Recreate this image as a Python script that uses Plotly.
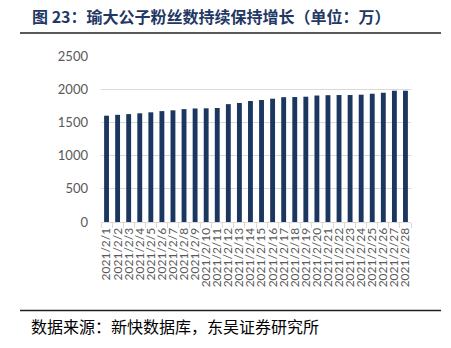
import plotly.graph_objects as go

dates = [f"2021/2/{d}" for d in range(1, 29)]
fans = [1601, 1614, 1625, 1637, 1652, 1670, 1682, 1700, 1710, 1712, 1717, 1775, 1792,
        1822, 1837, 1857, 1880, 1882, 1887, 1905, 1910, 1912, 1912, 1917, 1932, 1947,
        1975, 1977]
y_ticks = [0, 500, 1000, 1500, 2000, 2500]

title_text = "图 23：瑜大公子粉丝数持续保持增长（单位：万）"
source_text = "数据来源：新快数据库，东吴证券研究所"

W, H = 451, 348
L, R, T, B = 101, 40, 56, 126
pw, ph = W - L - R, H - T - B


def px(x):
    return (x - L) / pw


def py(y):
    return (H - B - y) / ph


fig = go.Figure(go.Bar(x=dates, y=fans, marker=dict(color="#1B3760", line=dict(width=0)),
                       width=0.44))

fig.update_layout(
    width=W, height=H,
    margin=dict(l=L, r=R, t=T, b=B),
    paper_bgcolor="white", plot_bgcolor="white",
    showlegend=False,
    font=dict(family="Lato, Liberation Sans, sans-serif", color="#595959"),
    xaxis=dict(type="category", tickangle=-90, tickfont=dict(size=12, color="#595959"),
               tickmode="array", tickvals=dates, ticktext=dates,
               showline=True, linecolor="#D9D9D9", linewidth=1,
               ticks="outside", ticklen=5, tickcolor="#D9D9D9", tickson="boundaries",
               showgrid=False, automargin=False),
    yaxis=dict(range=[0, 2500], tickvals=y_ticks, tickfont=dict(size=13, color="#595959"),
               showgrid=True, gridcolor="#D9D9D9", gridwidth=1, zeroline=False,
               showline=False, ticks="", automargin=False, ticklabelstandoff=12),
    shapes=[
        dict(type="line", xref="paper", yref="paper", x0=px(20), x1=px(441), y0=py(33), y1=py(33),
             line=dict(color="#222222", width=1.5)),
        dict(type="line", xref="paper", yref="paper", x0=px(20), x1=px(441), y0=py(310.5), y1=py(310.5),
             line=dict(color="#222222", width=1.5)),
    ],
    annotations=[
        dict(text="<b>" + title_text + "</b>", xref="paper", yref="paper", x=px(30), y=py(16),
             xanchor="left", yanchor="middle", showarrow=False,
             font=dict(family="Noto Sans CJK SC", size=16, color="#1F3864")),
        dict(text=source_text, xref="paper", yref="paper", x=px(29), y=py(326),
             xanchor="left", yanchor="middle", showarrow=False,
             font=dict(family="Noto Sans CJK SC", size=16, color="#000000")),
    ],
)

fig.write_html("out.html")
